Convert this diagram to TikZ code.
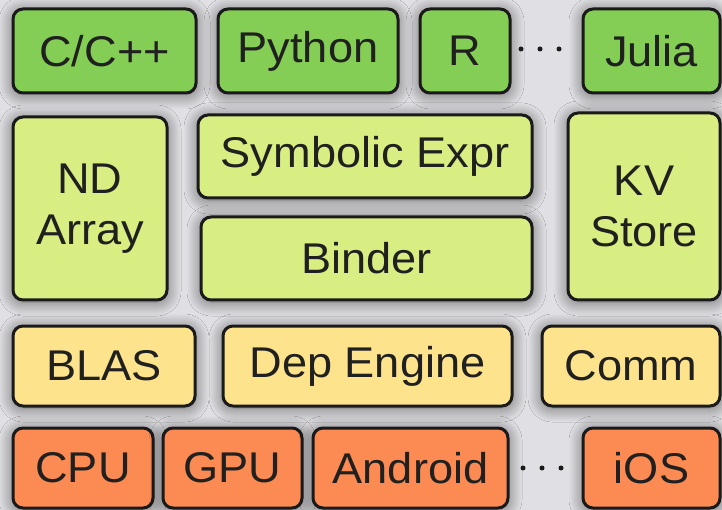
\documentclass[tikz,border=0pt]{standalone}
\usepackage{fontspec}
\setmainfont{Liberation Sans}[FakeStretch=1.05]
\usetikzlibrary{shadows.blur}
\definecolor{cgreen}{HTML}{84CE55}
\definecolor{clime}{HTML}{D8EE82}
\definecolor{cyellow}{HTML}{FDE38C}
\definecolor{corange}{HTML}{FB8B52}
\definecolor{cline}{HTML}{1A1A1A}
\definecolor{ctext}{HTML}{202020}
\definecolor{cback}{HTML}{E0E0E4}
\tikzset{
  box/.style={draw=cline, line width=3pt, rounded corners=10pt, inner sep=0pt,
    align=center, text=ctext, font=\fontsize{43}{51}\selectfont,
    blur shadow={shadow xshift=0pt, shadow yshift=-2pt, shadow blur radius=14pt,
      shadow opacity=55, shadow blur steps=20}},
  langbox/.style={box, fill=cgreen},
  corebox/.style={box, fill=clime},
  sysbox/.style={box, fill=cyellow},
  hwbox/.style={box, fill=corange},
  dotmark/.style={fill=cline}
}
\begin{document}
\begin{tikzpicture}[x=1pt, y=-1pt]
\fill[cback] (0,0) rectangle (722,510);
\useasboundingbox (0,0) rectangle (722,510);
% row 1
\node[langbox, minimum width=183, minimum height=84] (cpp) at (104.5,51) {C/C++};
\node[langbox, minimum width=180, minimum height=84] (python) at (308,51) {Python};
\node[langbox, minimum width=90, minimum height=84] (r) at (465,51) {R};
\node[langbox, minimum width=137, minimum height=84] (julia) at (651.5,51) {Julia};
% row 2
\node[corebox, minimum width=154, minimum height=183] (nd) at (90,208.5) {ND\\Array};
\node[corebox, minimum width=334, minimum height=83] (sym) at (365,156.5) {Symbolic Expr};
\node[corebox, minimum width=331, minimum height=83] (binder) at (366.5,258.5) {Binder};
\node[corebox, minimum width=152, minimum height=187] (kv) at (644,206.5) {KV\\Store};
% row 3
\node[sysbox, minimum width=182, minimum height=80] (blas) at (104,366) {BLAS};
\node[sysbox, minimum width=289, minimum height=80] (dep) at (367.5,366) {Dep Engine};
\node[sysbox, minimum width=178, minimum height=80] (comm) at (631,366) {Comm};
% row 4
\node[hwbox, minimum width=140, minimum height=80] (cpu) at (83,468) {CPU};
\node[hwbox, minimum width=139, minimum height=80] (gpu) at (232.5,468) {GPU};
\node[hwbox, minimum width=195, minimum height=80] (android) at (410.5,468) {Android};
\node[hwbox, minimum width=137, minimum height=80] (ios) at (651.5,468) {iOS};
% ellipsis dots
\foreach \x in {521,540,559} \fill[dotmark] (\x,49) circle (2.5pt);
\foreach \x in {523,542,561} \fill[dotmark] (\x,468) circle (2.5pt);
\end{tikzpicture}
\end{document}
